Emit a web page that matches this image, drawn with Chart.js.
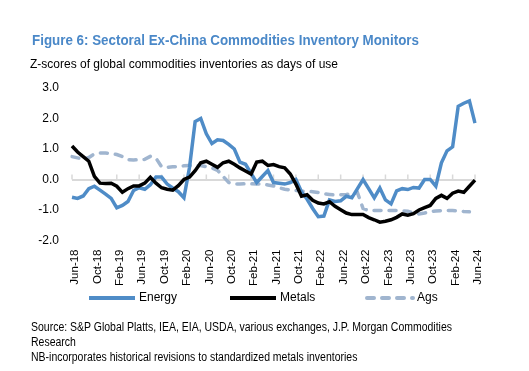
<!DOCTYPE html>
<html>
<head>
<meta charset="utf-8">
<script src="https://cdn.jsdelivr.net/npm/chart.js@4.4.1/dist/chart.umd.min.js"></script>
<style>
  body { margin: 0; background: #fff; }
  #wrap { position: relative; width: 529px; height: 371px; overflow: hidden;
          font-family: 'Liberation Sans Narrow', 'Arial Narrow', 'Liberation Sans', Arial, sans-serif; }
  .txt { position: absolute; white-space: nowrap; transform-origin: 0 0; color: #000; }
  #title { left: 32px; top: 33px; font-size: 14px; line-height: 14px; font-weight: bold; color: #4a88c8; }
  #sub { left: 30px; top: 57px; font-size: 13px; line-height: 13px; }
  .src { left: 31px; font-size: 12px; line-height: 15px; }
  canvas { position: absolute; left: 0; top: 0; }
</style>
</head>
<body>
<div id="wrap">
  <canvas id="chart" width="529" height="371"></canvas>
  <div class="txt" id="title">Figure 6: Sectoral Ex-China Commodities Inventory Monitors</div>
  <div class="txt" id="sub">Z-scores of global commodities inventories as days of use</div>
  <div class="txt src" id="src1" style="top:320px">Source: S&amp;P Global Platts, IEA, EIA, USDA, various exchanges, J.P. Morgan Commodities</div>
  <div class="txt src" id="src2" style="top:335px">Research</div>
  <div class="txt src" id="src3" style="top:350px">NB-incorporates historical revisions to standardized metals inventories</div>
</div>
<script>
// monthly, Jun-18 .. Jun-24
const monNames = ["Jan", "Feb", "Mar", "Apr", "May", "Jun", "Jul", "Aug", "Sep", "Oct", "Nov", "Dec"];
const months = [];
for (let k = 0; k < 73; k++) {
  const m = (5 + k) % 12;
  const yr = 18 + Math.floor((5 + k) / 12);
  months.push(monNames[m] + "-" + yr);
}

const energy = [
  -0.58, -0.62, -0.54, -0.3, -0.22, -0.35, -0.48, -0.62, -0.93, -0.85,
  -0.72, -0.36, -0.27, -0.32, -0.17, 0.08, 0.08, -0.15, -0.28, -0.4,
  -0.6, 0.4, 1.9, 2.0, 1.5, 1.18, 1.3, 1.28, 1.15, 1.0,
  0.57, 0.5, 0.2, -0.1, 0.1, 0.29, -0.1, -0.12, -0.15, -0.1,
  0.0, -0.4, -0.65, -0.95, -1.22, -1.2, -0.67, -0.72, -0.7, -0.55,
  -0.6, -0.3, 0.0, -0.3, -0.6, -0.28, -0.67, -0.8, -0.37, -0.3,
  -0.33, -0.26, -0.28, 0.0, 0.0, -0.22, 0.55, 0.94, 1.07, 2.4,
  2.5, 2.58, 1.85
];
const metals = [
  1.1, 0.9, 0.75, 0.6, 0.1, -0.12, -0.13, -0.12, -0.22, -0.42,
  -0.3, -0.21, -0.21, -0.12, 0.07, -0.12, -0.27, -0.32, -0.35, -0.2,
  0.0, 0.08, 0.29, 0.55, 0.6, 0.5, 0.4, 0.55, 0.6, 0.5,
  0.38, 0.28, 0.18, 0.57, 0.6, 0.46, 0.49, 0.42, 0.38, 0.18,
  -0.15, -0.55, -0.5, -0.68, -0.77, -0.8, -0.73, -0.88, -0.99, -1.1,
  -1.15, -1.15, -1.15, -1.25, -1.32, -1.4, -1.37, -1.32, -1.24, -1.13,
  -1.17, -1.12, -1.0, -0.92, -0.85, -0.62, -0.52, -0.62, -0.45, -0.38,
  -0.42, -0.22, -0.02
];
const ags = [
  0.75, 0.71, 0.67, 0.72, 0.84, 0.87, 0.87, 0.85, 0.82, 0.75,
  0.65, 0.64, 0.65, 0.66, 0.76, 0.7, 0.42, 0.4, 0.42, 0.42,
  0.45, 0.46, 0.46, 0.46, 0.42, 0.38, 0.3, 0.1, -0.1, -0.15,
  -0.15, -0.14, -0.14, -0.15, -0.15, -0.18, -0.21, -0.27, -0.32, -0.35,
  -0.36, -0.38, -0.39, -0.4, -0.43, -0.47, -0.49, -0.51, -0.5, -0.49,
  -0.47, -0.43, -0.95, -1.02, -1.02, -1.02, -1.02, -1.02, -1.02, -1.03,
  -1.04, -1.1, -1.13, -1.1, -1.05, -1.03, -1.02, -1.02, -1.02, -1.03,
  -1.05, -1.06, null
];

const blue = "#4f8cc7";
const grey = "#a0b5cf";

// squeeze the narrow text blocks to the widths in the reference
function fitWidth(id, w) {
  const el = document.getElementById(id);
  const f = w / el.getBoundingClientRect().width;
  el.style.transform = "scaleX(" + f + ")";
  return f;
}
fitWidth("title", 387);
fitWidth("sub", 308);
const fs = fitWidth("src1", 421);
document.getElementById("src2").style.transform = "scaleX(" + fs + ")";
document.getElementById("src3").style.transform = "scaleX(" + fs + ")";

// small tick marks sitting on the zero line
const zeroTicks = {
  id: "zeroTicks",
  beforeDatasetsDraw(chart) {
    const x = chart.scales.x, y = chart.scales.y;
    const y0 = y.getPixelForValue(0);
    const c = chart.ctx;
    c.save();
    c.strokeStyle = "#d9d9d9";
    c.lineWidth = 1.5;
    for (let i = 0; i < months.length; i += 4) {
      const px = x.getPixelForValue(i);
      c.beginPath();
      c.moveTo(px, y0);
      c.lineTo(px, y0 - 5);
      c.stroke();
    }
    c.restore();
  }
};

// legend row under the axis labels
const legendRow = {
  id: "legendRow",
  afterDraw(chart) {
    const c = chart.ctx;
    const xs = [89, 230, 367];
    const yy = 298;
    c.save();
    chart.data.datasets.forEach((ds, i) => {
      c.beginPath();
      c.strokeStyle = ds.borderColor;
      c.lineWidth = 4;
      c.lineCap = ds.borderCapStyle || "butt";
      c.setLineDash(ds.borderDash || []);
      c.moveTo(xs[i], yy);
      c.lineTo(xs[i] + 46, yy);
      c.stroke();
      c.setLineDash([]);
      c.fillStyle = "#000";
      c.font = "12px 'Liberation Sans', Arial, sans-serif";
      c.textBaseline = "middle";
      c.fillText(ds.label, xs[i] + 50, yy);
    });
    c.restore();
  }
};

new Chart(document.getElementById("chart"), {
  type: "line",
  data: {
    labels: months,
    datasets: [
      { label: "Energy", data: energy, borderColor: blue, borderWidth: 3.5, order: 1 },
      { label: "Metals", data: metals, borderColor: "#000", borderWidth: 3.5, order: 0 },
      { label: "Ags", data: ags, borderColor: grey, borderWidth: 3.5, borderDash: [7, 8],
        borderCapStyle: "round", order: 2 }
    ]
  },
  options: {
    responsive: false,
    animation: false,
    layout: { padding: { left: 0, right: 54, top: 88, bottom: 75.5 } },
    elements: { point: { radius: 0 }, line: { tension: 0, fill: false } },
    plugins: { legend: { display: false }, tooltip: { enabled: false } },
    scales: {
      x: {
        grid: { display: false },
        border: { display: false },
        afterFit: (s) => { s.height = 55; },
        ticks: {
          autoSkip: false,
          minRotation: 90,
          maxRotation: 90,
          padding: 1,
          labelOffset: 3,
          color: "#000",
          font: { family: "'Liberation Sans', Arial, sans-serif", size: 11.5 },
          callback: function (v, i) { return i % 4 === 0 ? months[i] : ""; }
        }
      },
      y: {
        min: -2,
        max: 3,
        border: { display: false },
        afterFit: (s) => { s.width = 72; },
        grid: {
          drawTicks: false,
          lineWidth: 2,
          color: (ctx) => (ctx.tick && ctx.tick.value === 0 ? "#d9d9d9" : "rgba(0,0,0,0)")
        },
        ticks: {
          stepSize: 1,
          padding: 13,
          color: "#000",
          font: { family: "'Liberation Sans', Arial, sans-serif", size: 12 },
          callback: (v) => v.toFixed(1)
        }
      }
    }
  },
  plugins: [zeroTicks, legendRow]
});
</script>
</body>
</html>
